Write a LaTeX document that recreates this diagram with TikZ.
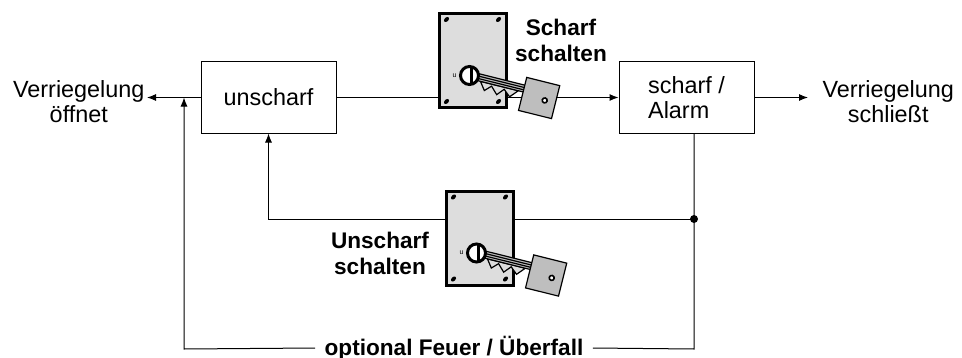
\documentclass[tikz,border=0pt]{standalone}
\usepackage{fontspec}
\setmainfont{Liberation Sans}
\usetikzlibrary{arrows.meta, positioning}

\definecolor{plategray}{RGB}{221,221,221}
\definecolor{keygray}{RGB}{190,190,190}

\begin{document}
\begin{tikzpicture}[x=0.5pt, y=-0.5pt, line width=0.5pt,
    >={Latex[length=4.5pt,width=3.5pt]},
    zustand/.style={draw, minimum width=67.5pt, minimum height=35.5pt,
      font=\fontsize{11.7}{12.6}\selectfont},
    ziel/.style={align=center, inner sep=1pt, font=\fontsize{11.7}{12.8}\selectfont},
    schalter/.style={align=center, inner sep=1pt, font=\fontsize{11.3}{13}\selectfont\bfseries}]

    \useasboundingbox (0,0) rectangle (962,358);

    \node[zustand] (unscharf) at (268.5,97.5) {unscharf};
    \node[zustand, align=left] (alarm) at (686.5,97.5) {scharf /\\Alarm};
    \node[ziel, anchor=east] (offen) at (147,101.5) {Verriegelung\\öffnet};
    \node[ziel, anchor=west, inner xsep=7pt] (zu) at (808,101.5) {Verriegelung\\schließt};
    \node[schalter] (scharfsch) at (561,40.5) {Scharf\\schalten};
    \node[schalter] (unscharfsch) at (380,253) {Unscharf\\schalten};
    \node[schalter, inner xsep=4.5pt] (feuer) at (454,348) {optional Feuer / Überfall};

    \coordinate (jn) at (694,219);
    \coordinate (br) at (694,349);
    \coordinate (bl) at (184,349);

    % signal lines
    \draw[->] (unscharf.east) -- (alarm.west);
    \draw[->] (unscharf.west) -- (unscharf.west -| offen.east);
    \draw[->] (alarm.east) -- (alarm.east -| zu.west);
    \draw (jn |- alarm.south) -- (br) -- (feuer.east);
    \draw[->] (feuer.west) -- (bl) -- (bl |- unscharf.west);
    \draw[->] (jn) -- (unscharf.south |- jn) -- (unscharf.south);
    \fill (jn) circle (4);

    % key switches
    \foreach \lx/\ly in {472.5/60.5, 479.5/238}
    {
      \begin{scope}[shift={(\lx,\ly)}]
        \draw[line width=1.5pt, fill=plategray] (-33.5,-47) rectangle (33.5,47);
        \foreach \sx/\sy in {-26/-41, 26/-41, -26/41, 26/41}
          \fill[rotate around={45:(\sx,\sy)}] (\sx,\sy) ellipse (3 and 2);
        \node[font=\fontsize{3.5}{4}\selectfont, inner sep=0pt] at (-18,15) {u};
        \begin{scope}[shift={(-3,15)}, rotate=-14]
          \draw[fill=plategray, line width=0.6pt] (12,3) -- (18,11) -- (24,5) -- (31,12)
            -- (37,5) -- (44,11) -- (51,3) -- cycle;
          \draw[fill=keygray, line width=0.6pt] (6,-4) rectangle (58,3);
          \draw[line width=0.6pt] (8,-1.6) -- (57,-1.6) (8,0.8) -- (57,0.8);
          \draw[fill=keygray, line width=0.6pt] (56,-12) rectangle (90,22);
          \draw[fill=white, line width=0.8pt] (79,6) circle (2.5);
        \end{scope}
        \draw[line width=1.5pt, fill=white] (-3,15) circle (9);
        \draw[line width=1.3pt] (-1,6) -- (-1,24);
      \end{scope}
    }
\end{tikzpicture}
\end{document}
